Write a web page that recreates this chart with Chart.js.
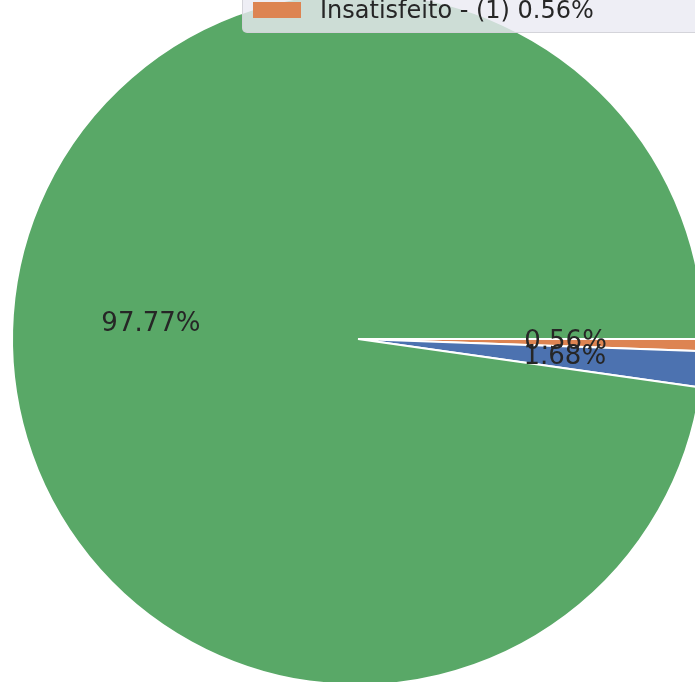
<!DOCTYPE html>
<html>
<head>
<meta charset="utf-8">
<script src="https://cdn.jsdelivr.net/npm/chart.js@4"></script>
<style>
  html, body { margin: 0; padding: 0; background: #fff; }
  body { width: 695px; height: 682px; overflow: hidden; position: relative; font-family: "DejaVu Sans", sans-serif; }
  #wrap { position: absolute; left: 0; top: -19px; width: 716px; height: 716px; }
  #legend {
    position: absolute; left: 242px; top: -30px; width: 480px; height: 63px;
    background: rgba(234, 234, 242, 0.8); border: 1px solid rgba(210, 210, 215, 0.9);
    border-radius: 5px; box-sizing: border-box;
  }
  #legend .row { position: absolute; left: 10px; bottom: 8px; height: 28px; display: flex; align-items: center; }
  #legend .patch { width: 48px; height: 16px; background: #DD8452; margin-right: 19px; }
  #legend .txt { font-size: 24px; color: #262626; white-space: nowrap; }
</style>
</head>
<body>
<div id="wrap"><canvas id="pieChart" width="716" height="716"></canvas></div>
<div id="legend"><div class="row"><div class="patch"></div><div class="txt">Insatisfeito - (1) 0.56%</div></div></div>
<script>
  // slice values (percent), clockwise from 3 o'clock
  const labels = ['Insatisfeito - (1)', 'Neutro - (2)', 'Satisfeito - (3)'];
  const percents = [0.56, 1.68, 97.77];
  const colors = ['#DD8452', '#4C72B0', '#59A867'];

  // draws the percentage text at 0.6 of the radius, like autopct
  const pctLabels = {
    id: 'pctLabels',
    afterDatasetsDraw(chart) {
      const ctx = chart.ctx;
      const arcs = chart.getDatasetMeta(0).data;
      ctx.save();
      ctx.font = '26px "DejaVu Sans"';
      ctx.fillStyle = '#262626';
      ctx.textAlign = 'center';
      ctx.textBaseline = 'middle';
      arcs.forEach((arc, i) => {
        const p = arc.getProps(['x', 'y', 'startAngle', 'endAngle', 'outerRadius'], true);
        const mid = (p.startAngle + p.endAngle) / 2;
        const r = p.outerRadius * 0.6;
        ctx.fillText(percents[i].toFixed(2) + '%', p.x + r * Math.cos(mid), p.y + r * Math.sin(mid));
      });
      ctx.restore();
    }
  };

  const ctx = document.getElementById('pieChart').getContext('2d');
  new Chart(ctx, {
    type: 'pie',
    data: {
      labels: labels,
      datasets: [{
        data: percents,
        backgroundColor: colors,
        borderColor: '#ffffff',
        borderWidth: 2
      }]
    },
    options: {
      responsive: false,
      animation: false,
      rotation: 90,
      radius: 346,
      layout: { padding: 0 },
      plugins: { legend: { display: false }, tooltip: { enabled: false } }
    },
    plugins: [pctLabels]
  });
</script>
</body>
</html>
